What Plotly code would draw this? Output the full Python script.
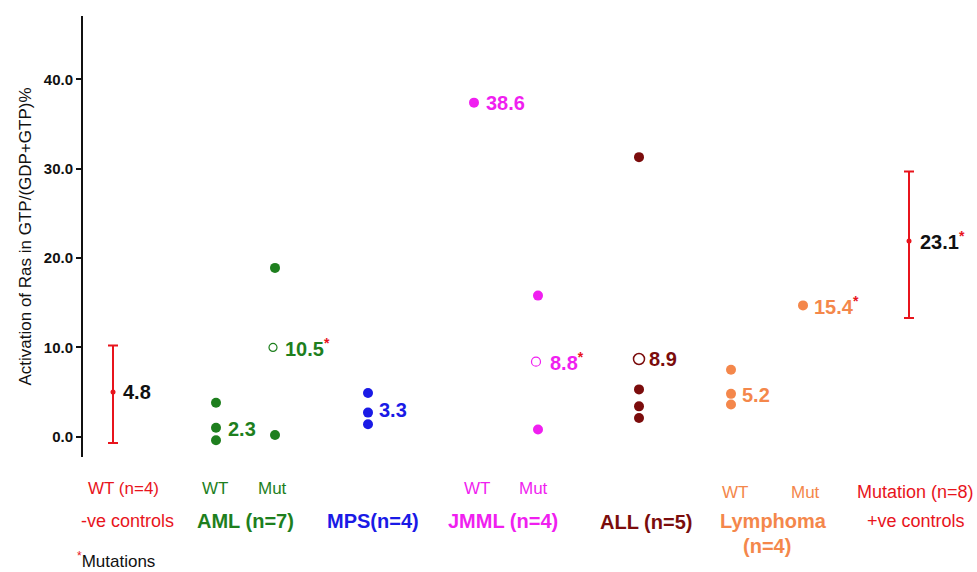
import plotly.graph_objects as go

# ---------------- data ----------------
group_names = ["WT ctrl", "AML WT", "AML Mut", "MPS", "JMML WT", "JMML Mut",
               "ALL", "Lymphoma WT", "Lymphoma Mut", "+ve ctrl"]
group_x = [0.30, 1.33, 1.92, 2.85, 3.91, 4.55, 5.56, 6.48, 7.20, 8.26]

neg_ctrl_mean = [5.0]
neg_ctrl_high = [10.2]
neg_ctrl_low = [-0.7]

aml_wt = [3.8, 1.0, -0.4]
aml_mut = [18.9, 0.2]
aml_mut_open = [10.0]
mps = [4.9, 2.7, 1.4]
jmml_wt = [37.4]
jmml_mut = [15.8, 0.8]
jmml_mut_open = [8.4]
all_vals = [31.3, 5.3, 3.4, 2.1]
all_open = [8.7]
lymph_wt = [7.5, 4.8, 3.6]
lymph_mut = [14.7]

pos_ctrl_mean = [21.9]
pos_ctrl_high = [29.7]
pos_ctrl_low = [13.3]

value_labels = ["4.8", "2.3", "10.5*", "3.3", "38.6", "8.8*", "8.9", "5.2", "15.4*", "23.1*"]
value_label_y = [5.0, 0.9, 10.0, 3.0, 37.4, 8.4, 8.7, 4.7, 14.7, 22.0]

y_ticks = [0, 10, 20, 30, 40]
y_tick_labels = ["0.0", "10.0", "20.0", "30.0", "40.0"]

# ---------------- styles ----------------
RED = "#e8141c"
GREEN = "#1e7f1e"
BLUE = "#1a1ae6"
MAGENTA = "#f01ff0"
DARKRED = "#7b0c0c"
ORANGE = "#f4874b"
BLACK = "#111111"
FONT = "Liberation Sans, Arial, sans-serif"

W, H = 977, 572
L, R, T, B = 83, 7, 16, 115
PW, PH = W - L - R, H - T - B

fig = go.Figure()


def dots(xpos, vals, color, size=10, open_=False, lw=1.2):
    fig.add_trace(go.Scatter(
        x=[xpos] * len(vals), y=vals, mode="markers",
        marker=dict(size=size, color="white" if open_ else color,
                    symbol="circle",
                    line=dict(color=color, width=lw if open_ else 0)),
        showlegend=False, hoverinfo="y", cliponaxis=False))


def errbar(xpos, mean, hi, lo):
    fig.add_trace(go.Scatter(
        x=[xpos] * len(mean), y=mean, mode="markers",
        marker=dict(size=5, color=RED),
        error_y=dict(type="data", symmetric=False,
                     array=[h - m for h, m in zip(hi, mean)],
                     arrayminus=[m - l for m, l in zip(mean, lo)],
                     color=RED, thickness=2, width=5),
        showlegend=False, hoverinfo="y", cliponaxis=False))


errbar(group_x[0], neg_ctrl_mean, neg_ctrl_high, neg_ctrl_low)
dots(group_x[1], aml_wt, GREEN)
dots(group_x[2], aml_mut, GREEN)
dots(group_x[2] - 0.02, aml_mut_open, GREEN, size=8, open_=True, lw=1.2)
dots(group_x[3], mps, BLUE)
dots(group_x[4], jmml_wt, MAGENTA)
dots(group_x[5], jmml_mut, MAGENTA)
dots(group_x[5] - 0.02, jmml_mut_open, MAGENTA, size=9, open_=True, lw=1.2)
dots(group_x[6], all_vals, DARKRED)
dots(group_x[6], all_open, DARKRED, size=11, open_=True, lw=1.5)
dots(group_x[7], lymph_wt, ORANGE)
dots(group_x[8], lymph_mut, ORANGE)
errbar(group_x[9], pos_ctrl_mean, pos_ctrl_high, pos_ctrl_low)

label_colors = [BLACK, GREEN, GREEN, BLUE, MAGENTA, MAGENTA, DARKRED, ORANGE, ORANGE, BLACK]
label_dx = [0.08, 0.10, 0.08, 0.09, 0.10, 0.10, 0.08, 0.09, 0.09, 0.09]

annotations = []
for gx, txt, ly, col, dx in zip(group_x, value_labels, value_label_y, label_colors, label_dx):
    if txt.endswith("*"):
        txt = txt[:-1] + "<span style='color:%s'><sup>*</sup></span>" % RED
    annotations.append(dict(x=gx + dx, y=ly, xref="x", yref="y", text="<b>%s</b>" % txt,
                            showarrow=False, xanchor="left", yanchor="middle",
                            font=dict(family=FONT, size=20, color=col)))


def px_ann(px, py, text, color, size, bold=False, anchor="center"):
    t = "<b>%s</b>" % text if bold else text
    annotations.append(dict(x=(px - L) / PW, y=(T + PH - py) / PH, xref="paper", yref="paper",
                            text=t, showarrow=False, xanchor=anchor, yanchor="middle",
                            font=dict(family=FONT, size=size, color=color)))


# bottom category labels
px_ann(123, 489, "WT (n=4)", RED, 17)
px_ann(127, 521, "-ve controls", RED, 18)
px_ann(215, 489, "WT", GREEN, 17)
px_ann(272, 489, "Mut", GREEN, 17)
px_ann(245, 521, "AML (n=7)", GREEN, 20, bold=True)
px_ann(373, 521, "MPS(n=4)", BLUE, 20, bold=True)
px_ann(477, 489, "WT", MAGENTA, 17)
px_ann(533, 489, "Mut", MAGENTA, 17)
px_ann(503, 521, "JMML (n=4)", MAGENTA, 20, bold=True)
px_ann(646, 522, "ALL (n=5)", DARKRED, 20, bold=True)
px_ann(735, 492, "WT", ORANGE, 17)
px_ann(805, 492, "Mut", ORANGE, 17)
px_ann(773, 521, "Lymphoma", ORANGE, 20, bold=True)
px_ann(767, 546, "(n=4)", ORANGE, 20, bold=True)
px_ann(915, 492, "Mutation (n=8)", RED, 18)
px_ann(916, 521, "+ve controls", RED, 18)
px_ann(75, 560, "<span style='color:%s'><sup>*</sup></span>Mutations" % RED, BLACK, 17, anchor="left")

fig.update_layout(
    width=W, height=H,
    margin=dict(l=L, r=R, t=T, b=B),
    paper_bgcolor="white", plot_bgcolor="white",
    showlegend=False,
    annotations=annotations,
    font=dict(family=FONT, color=BLACK),
    xaxis=dict(range=[0, PW / 100], visible=False, fixedrange=True),
    yaxis=dict(range=[-2.27, 47.1], showline=True, linecolor="#111111", linewidth=2,
               ticks="outside", ticklen=5, tickwidth=1.5, tickcolor="#111111",
               tickvals=y_ticks, ticktext=["<b>%s</b>" % t for t in y_tick_labels],
               tickfont=dict(family=FONT, size=15, color=BLACK),
               showgrid=False, zeroline=False,
               title=dict(text="Activation of Ras in GTP/(GDP+GTP)%",
                          font=dict(family=FONT, size=17, color=BLACK), standoff=8)),
)

fig.write_html("out.html", config={"displayModeBar": False},
               post_script="document.body.style.margin='0';document.body.style.overflow='hidden';")
